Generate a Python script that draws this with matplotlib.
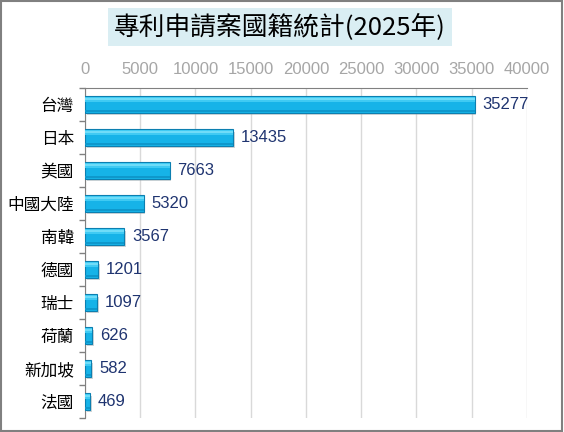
import matplotlib.pyplot as plt
import matplotlib.patches as patches

plt.rcParams['font.family'] = ['Noto Sans CJK TC', 'DejaVu Sans']

countries = ["台灣", "日本", "美國", "中國大陸", "南韓", "德國", "瑞士", "荷蘭", "新加坡", "法國"]
counts = [35277, 13435, 7663, 5320, 3567, 1201, 1097, 626, 582, 469]
xticks = [0, 5000, 10000, 15000, 20000, 25000, 30000, 35000, 40000]

fig = plt.figure(figsize=(5.64, 4.32), dpi=100)
ax = fig.add_axes([0.1507, 0.0324, 0.7837, 0.7639])

ys = list(range(len(countries)))

# shadow, body, soft highlight bands
ax.barh([y + 0.07 for y in ys], counts, height=0.5, left=150, color="#9aa3a8", alpha=0.45, zorder=2)
ax.barh(ys, counts, height=0.5, color="#16b3e8", edgecolor="#0c7fb0", linewidth=0.8, zorder=3)
ax.barh([y - 0.15 for y in ys], counts, height=0.14, color="#3fcaf3", linewidth=0, zorder=4)
ax.barh([y - 0.175 for y in ys], counts, height=0.06, color="#6fdcf8", linewidth=0, zorder=4)
ax.barh([y + 0.2 for y in ys], counts, height=0.08, color="#0e98cc", linewidth=0, zorder=4)

for y, v in zip(ys, counts):
    ax.text(v + 700, y, str(v), va="center", ha="left", fontsize=12,
            color="#1f3470", family=["Liberation Sans"], zorder=5)

ax.set_xlim(0, 40000)
ax.set_ylim(len(countries) - 0.5, -0.5)
ax.set_xticks(xticks)
ax.set_xticklabels([str(t) for t in xticks], family=["Liberation Sans"], fontsize=12, color="#a6a6a6")
ax.xaxis.tick_top()
ax.tick_params(axis="x", length=0, pad=8)
ax.set_yticks(ys)
ax.set_yticklabels(countries, fontsize=12, color="black")
ax.set_yticks([y + 0.5 for y in range(-1, len(countries))], minor=True)
ax.tick_params(axis="y", which="major", length=0, pad=8)
ax.tick_params(axis="y", which="minor", length=4, color="#808080", width=1)
ax.grid(axis="x", color="#d9d9d9", linewidth=1, zorder=0)
ax.set_axisbelow(True)
for side in ["right", "bottom"]:
    ax.spines[side].set_visible(False)
ax.spines["top"].set_color("#808080")
ax.spines["left"].set_color("#808080")

fig.text(0.4965, 0.9375, "專利申請案國籍統計(2025年)", ha="center", va="center",
         fontsize=18.5, color="black",
         bbox=dict(boxstyle="square,pad=0.22", facecolor="#daeef3", edgecolor="none"))

fig.patches.append(patches.Rectangle((0.002, 0.003), 0.995, 0.994, transform=fig.transFigure,
                                     fill=False, edgecolor="#808080", linewidth=1.5))

fig.savefig("out.png", dpi=100)
